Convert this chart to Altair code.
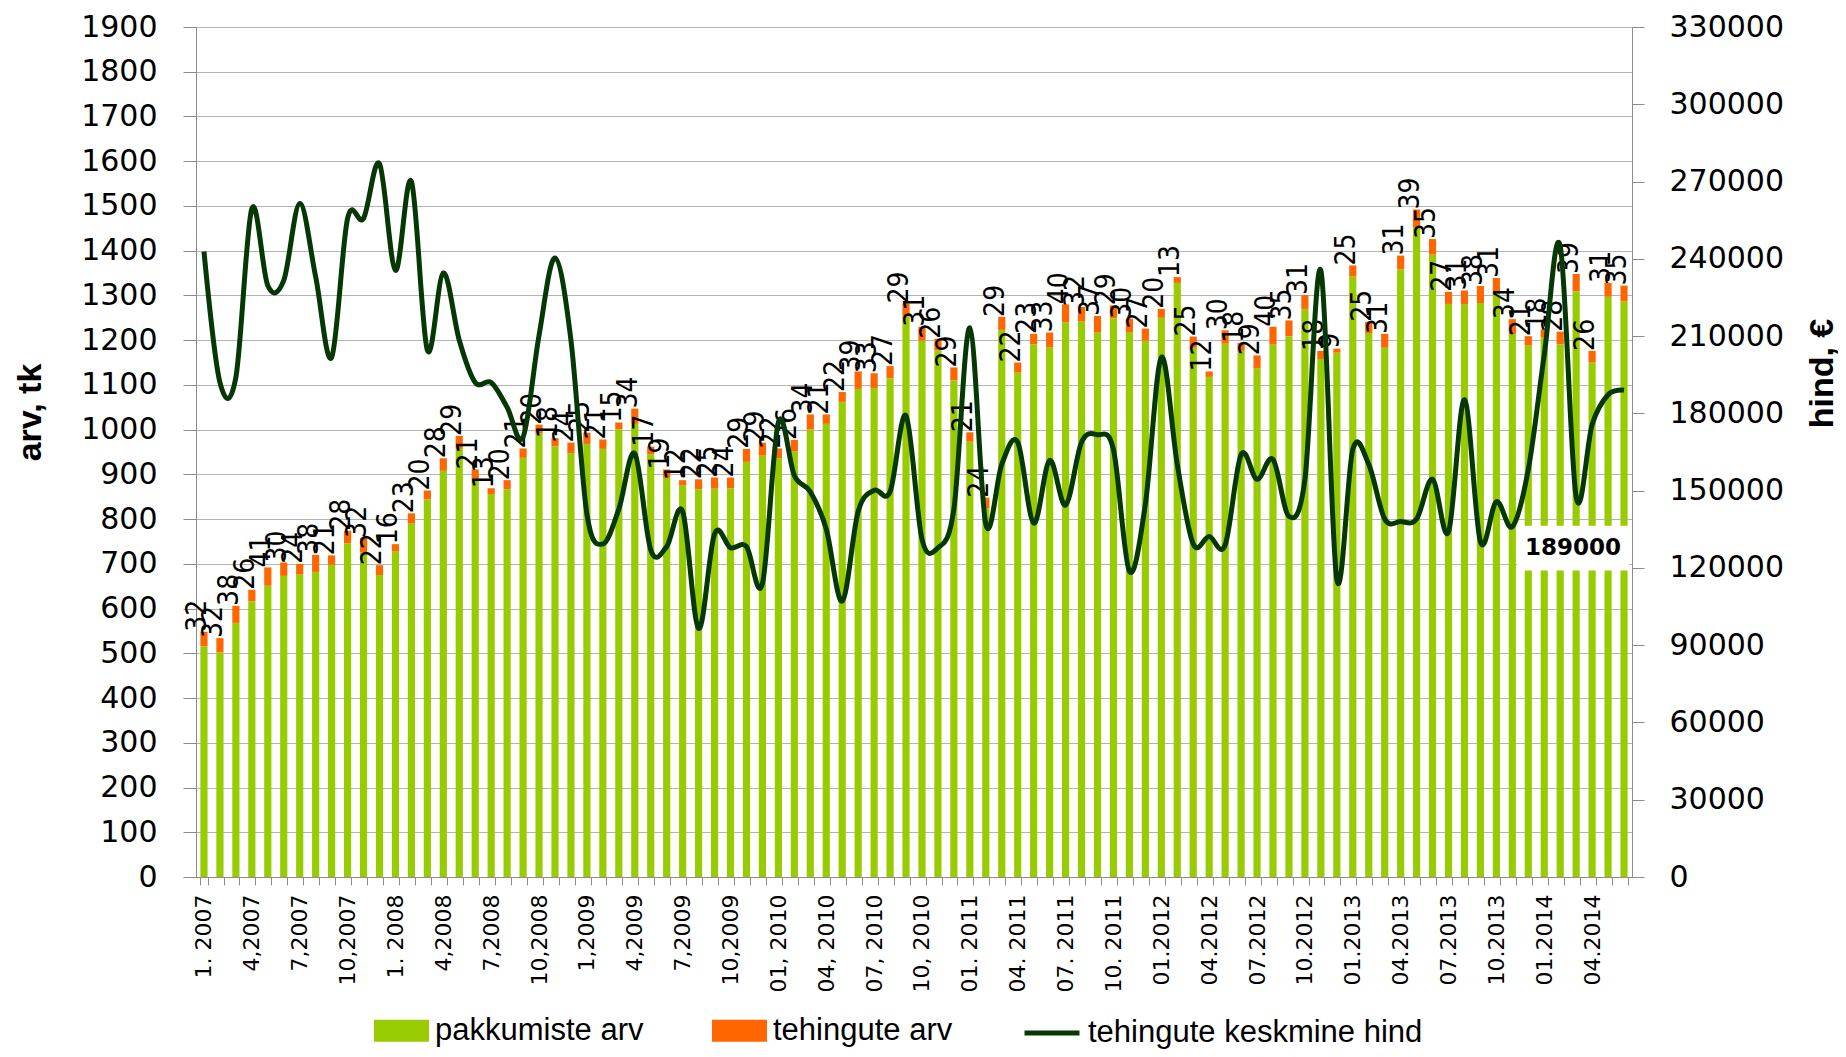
import json
import altair as alt
import pandas as pd

# ---------------- data ----------------
months = [f"{y}-{m:02d}" for y in range(2007, 2015) for m in range(1, 13)][:90]

pakkumiste = [
    516, 502, 568, 616, 651, 673, 676, 682, 698, 746, 726, 675, 728, 790, 844,
    908, 957, 890, 856, 867, 937, 991, 963, 947, 968, 957, 1001, 1013, 945, 892,
    875, 867, 868, 869, 928, 942, 936, 951, 1000, 1013, 1062, 1091, 1093, 1115, 1253,
    1199, 1177, 1110, 973, 824, 1223, 1128, 1191, 1184, 1240, 1242, 1217, 1249, 1218, 1199,
    1250, 1328, 1183, 1118, 1192, 1176, 1137, 1190, 1209, 1270, 1158, 1172, 1342, 1216, 1183,
    1358, 1453, 1391, 1281, 1280, 1283, 1308, 1213, 1188, 1206, 1191, 1309, 1150, 1297, 1287,
]

tehingud = [
    32, 32, 38, 26, 41, 30, 24, 38, 21, 28, 32, 22, 16, 23, 20,
    28, 29, 21, 13, 20, 21, 20, 18, 24, 25, 21, 15, 34, 17, 19,
    12, 22, 25, 24, 29, 29, 22, 26, 34, 21, 22, 39, 33, 27, 29,
    31, 26, 29, 21, 24, 29, 22, 23, 33, 40, 32, 37, 29, 30, 27,
    20, 13, 25, 12, 30, 18, 29, 40, 35, 31, 18, 9, 25, 25, 31,
    31, 39, 35, 27, 31, 38, 31, 34, 21, 18, 28, 39, 26, 31, 35,
]

hind = [
    242800, 192000, 194000, 259500, 229600, 231600, 261500, 233000, 201700, 255700, 255700, 276900, 235500, 270000, 204500,
    234500, 208400, 192000, 192000, 182400, 170800, 210300, 240300, 208400, 140900, 129300, 142800, 164400, 127000, 128300,
    141900, 96500, 133200, 127800, 128300, 113900, 176600, 155900, 149600, 135100, 107100, 141900, 150100, 149600, 179100,
    131200, 127800, 142800, 213200, 137000, 160200, 168800, 137400, 161700, 144400, 168800, 171700, 166000, 118700, 144700,
    201700, 160200, 129300, 132200, 128900, 164000, 154400, 162100, 140000, 154400, 235500, 115500, 166000, 160200, 139000,
    138000, 139000, 154400, 134000, 185300, 130200, 145700, 136000, 158200, 202700, 245000, 147600, 175600, 187200, 189000,
]

x_tick_labels = [
    "1. 2007", "4,2007", "7,2007", "10,2007", "1. 2008", "4,2008", "7,2008", "10,2008",
    "1,2009", "4,2009", "7,2009", "10,2009", "01, 2010", "04, 2010", "07, 2010", "10, 2010",
    "01. 2011", "04. 2011", "07. 2011", "10. 2011", "01.2012", "04.2012", "07.2012", "10.2012",
    "01.2013", "04.2013", "07.2013", "10.2013", "01.2014", "04.2014",
]

series_names = ["pakkumiste arv", "tehingute arv"]
line_name = "tehingute keskmine hind"

left_ticks = list(range(0, 2000, 100))
right_ticks = list(range(0, 330001, 30000))

# ---------------- tables ----------------
n = len(months)
df = pd.DataFrame({
    "idx": list(range(n)),
    "month": months,
    "pakk": pakkumiste,
    "teh": tehingud,
    "hind": hind,
})
df["total"] = df["pakk"] + df["teh"]
df["sari"] = line_name

bars_long = pd.concat([
    pd.DataFrame({"idx": df["idx"], "series": series_names[0], "value": df["pakk"], "ord": 0}),
    pd.DataFrame({"idx": df["idx"], "series": series_names[1], "value": df["teh"], "ord": 1}),
], ignore_index=True)

last_df = df.tail(1)

full_labels = [""] * n
for i, lab in enumerate(x_tick_labels):
    full_labels[3 * i] = lab
label_expr = json.dumps(full_labels) + "[datum.value]"

# ---------------- styles ----------------
GREEN = "#99CC00"
ORANGE = "#FF6600"
DARK = "#053805"
AXIS_GRAY = "#8c8c8c"

x_enc = alt.X(
    "idx:O",
    scale=alt.Scale(paddingInner=0.55, paddingOuter=0.275),
    axis=alt.Axis(
        title=None, labelExpr=label_expr, labelAngle=270, labelFont="DejaVu Sans",
        labelFontSize=22, labelPadding=9, tickSize=8, tickBand="extent",
        tickColor=AXIS_GRAY, domainColor=AXIS_GRAY, labelOverlap=False, grid=False,
        labelColor="black",
    ),
)

left_scale = alt.Scale(domain=[0, 1900], nice=False, zero=True)
left_axis = alt.Axis(
    title="arv, tk", values=left_ticks, format="d", grid=True, gridColor="#b4b4b4",
    labelFont="DejaVu Sans", labelFontSize=30, labelPadding=26, tickSize=13,
    tickColor=AXIS_GRAY, domainColor=AXIS_GRAY, labelColor="black",
    titleFont="Liberation Sans", titleFontWeight="bold", titleFontSize=34,
    titleAngle=270, titleX=-166, titleY=385, titleAlign="center", titleBaseline="middle",
    titleColor="black",
)

right_scale = alt.Scale(domain=[0, 330000], nice=False, zero=True)
right_axis = alt.Axis(
    orient="right", title="hind, €", values=right_ticks, format="d", grid=False,
    labelFont="DejaVu Sans", labelFontSize=30, labelPadding=25, tickSize=12,
    tickColor=AXIS_GRAY, domainColor=AXIS_GRAY, labelColor="black",
    titleFont="Liberation Sans", titleFontWeight="bold", titleFontSize=34,
    titleAngle=270, titleX=190, titleY=346, titleAlign="center", titleBaseline="middle",
    titleColor="black",
)

RECT_PATH = "M-1,-0.4H1V0.4H-1Z"

bars = alt.Chart(bars_long).mark_bar().encode(
    x=x_enc,
    y=alt.Y("value:Q", stack="zero", scale=left_scale, axis=left_axis),
    fill=alt.Fill(
        "series:N",
        scale=alt.Scale(domain=series_names, range=[GREEN, ORANGE]),
        legend=alt.Legend(
            title=None, orient="none", legendX=178, legendY=976, direction="horizontal",
            symbolType=RECT_PATH, symbolSize=3025, symbolStrokeWidth=0,
            labelFont="Liberation Sans", labelFontSize=31, labelOffset=6,
            columnPadding=68, padding=0, labelColor="black", labelLimit=600,
        ),
    ),
    order=alt.Order("ord:Q", sort="ascending"),
)

labels = alt.Chart(df).mark_text(
    angle=270, align="left", baseline="middle", dy=-6,
    font="Liberation Sans Narrow, DejaVu Sans Condensed, Liberation Sans",
    fontSize=28, color="black",
).encode(
    x=x_enc,
    y=alt.Y("total:Q", scale=left_scale, axis=left_axis),
    text=alt.Text("teh:Q", format="d"),
)

line = alt.Chart(df).mark_line(interpolate="cardinal", strokeWidth=5, strokeJoin="round").encode(
    x=x_enc,
    y=alt.Y("hind:Q", scale=right_scale, axis=right_axis),
    stroke=alt.Stroke(
        "sari:N",
        scale=alt.Scale(domain=[line_name], range=[DARK]),
        legend=alt.Legend(
            title=None, orient="none", legendX=826, legendY=976,
            symbolType="stroke", symbolSize=3025, symbolStrokeWidth=5,
            labelFont="Liberation Sans", labelFontSize=31, labelOffset=6,
            padding=0, labelColor="black", labelLimit=600,
        ),
    ),
)

box = alt.Chart(last_df).mark_point(
    shape=RECT_PATH, size=12544, filled=True, color="white", opacity=1,
    strokeWidth=0, xOffset=-51, yOffset=158,
).encode(
    x=x_enc,
    y=alt.Y("hind:Q", scale=right_scale, axis=right_axis),
)

box_text = alt.Chart(last_df).mark_text(
    font="DejaVu Sans", fontWeight="bold", fontSize=23, color="black",
    dx=-51, dy=158, align="center", baseline="middle",
).encode(
    x=x_enc,
    y=alt.Y("hind:Q", scale=right_scale, axis=right_axis),
    text=alt.Text("hind:Q", format="d"),
)

chart = alt.layer(
    alt.layer(bars, labels),
    alt.layer(line, box, box_text),
).resolve_scale(
    y="independent"
).properties(
    width=1436,
    height=850,
    padding={"left": 188, "top": 19, "right": 206, "bottom": 172},
    autosize=alt.AutoSizeParams(type="none"),
    background="white",
).configure_view(
    stroke="transparent"
)

chart.save("out.html", embed_options={"renderer": "svg", "actions": False})
